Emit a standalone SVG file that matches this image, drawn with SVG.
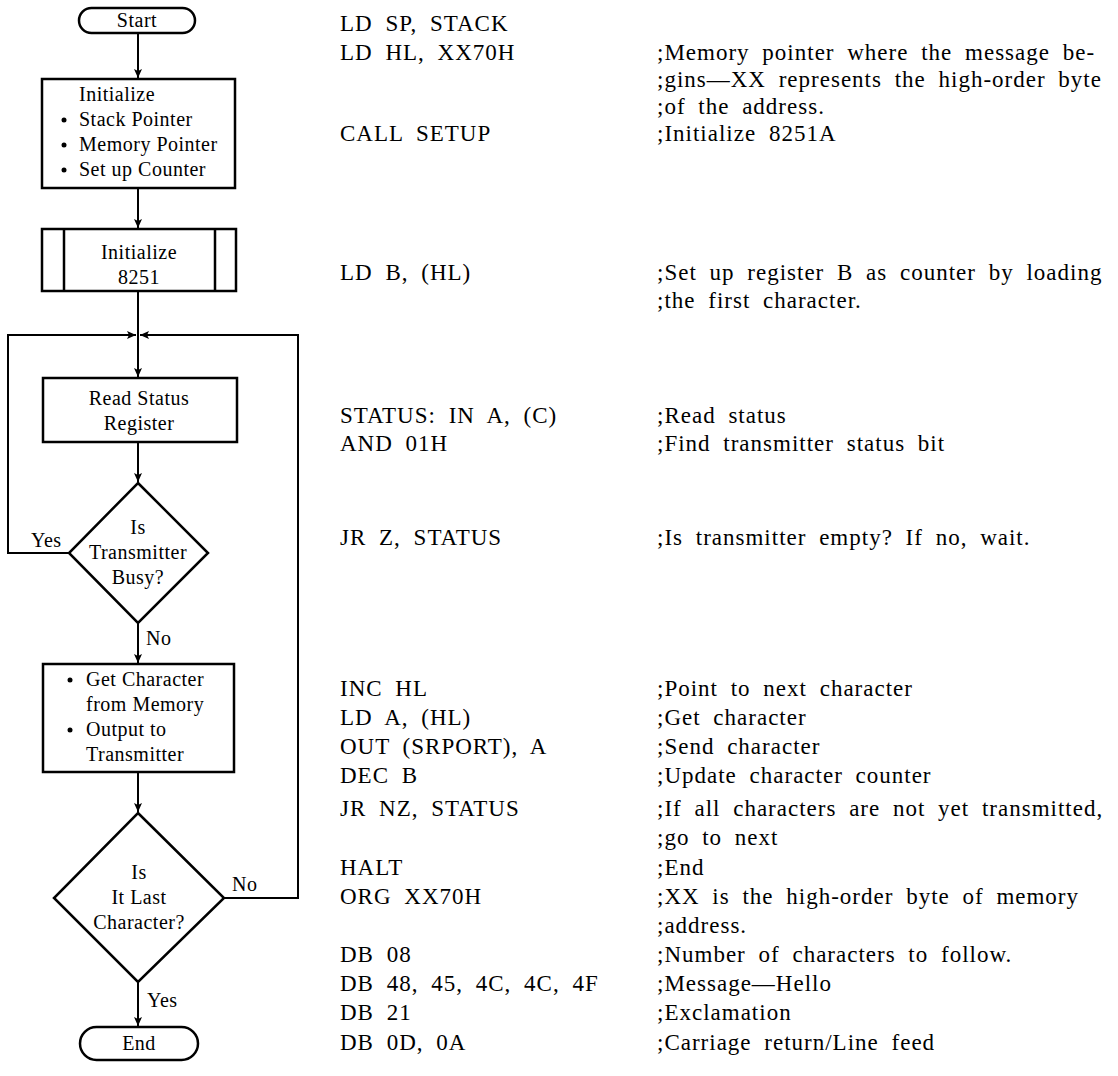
<svg xmlns="http://www.w3.org/2000/svg" width="1118" height="1076" viewBox="0 0 1118 1076">
<style>
  .shape { fill: #fff; stroke: #000; stroke-width: 2.5; }
  .line { fill: none; stroke: #000; stroke-width: 2; }
  .fc { font-family: "Liberation Serif", "Times New Roman", serif; font-size: 20px; letter-spacing: 0.5px; fill: #000; }
  .mid { text-anchor: middle; }
  .code { font-family: "Liberation Serif", "Times New Roman", serif; font-size: 23px; letter-spacing: 1px; word-spacing: 6px; fill: #000; }
</style>
<defs>
  <marker id="arr" markerWidth="10" markerHeight="12" refX="9" refY="5" orient="auto" markerUnits="userSpaceOnUse">
    <path d="M0,1 L9,5 L0,9 L2,5 Z" fill="#000"/>
  </marker>
</defs>
<rect width="1118" height="1076" fill="#fff"/>

<g id="connectors">
  <line class="line" x1="138" y1="33" x2="138" y2="78" marker-end="url(#arr)"/>
  <line class="line" x1="138" y1="188" x2="138" y2="228" marker-end="url(#arr)"/>
  <line class="line" x1="138" y1="291" x2="138" y2="377" marker-end="url(#arr)"/>
  <polyline class="line" points="69,553 8,553 8,335 136,335" marker-end="url(#arr)"/>
  <polyline class="line" points="224,898 298,898 298,335 140,335" marker-end="url(#arr)"/>
  <line class="line" x1="138" y1="442" x2="138" y2="482" marker-end="url(#arr)"/>
  <line class="line" x1="138" y1="623" x2="138" y2="663" marker-end="url(#arr)"/>
  <line class="line" x1="138" y1="772" x2="138" y2="812" marker-end="url(#arr)"/>
  <line class="line" x1="138" y1="982" x2="138" y2="1026" marker-end="url(#arr)"/>
  <text class="fc" x="31" y="547">Yes</text>
  <text class="fc" x="146" y="645">No</text>
  <text class="fc" x="232" y="891">No</text>
  <text class="fc" x="147" y="1007">Yes</text>
</g>

<g id="start">
  <rect class="shape" x="79" y="8" width="116" height="25" rx="12.5"/>
  <text class="fc mid" x="137" y="27">Start</text>
</g>
<g id="init">
  <rect class="shape" x="42" y="79" width="193" height="109"/>
  <text class="fc" x="79" y="101">Initialize</text>
  <circle cx="64" cy="120" r="2.5"/>
  <text class="fc" x="79" y="126">Stack Pointer</text>
  <circle cx="64" cy="145" r="2.5"/>
  <text class="fc" x="79" y="151">Memory Pointer</text>
  <circle cx="64" cy="170" r="2.5"/>
  <text class="fc" x="79" y="176">Set up Counter</text>
</g>
<g id="init8251">
  <rect class="shape" x="42" y="229" width="194" height="62"/>
  <line class="shape" x1="64" y1="229" x2="64" y2="291"/>
  <line class="shape" x1="215" y1="229" x2="215" y2="291"/>
  <text class="fc mid" x="139" y="259">Initialize</text>
  <text class="fc mid" x="139" y="284">8251</text>
</g>
<g id="readstatus">
  <rect class="shape" x="43" y="378" width="194" height="64"/>
  <text class="fc mid" x="139" y="405">Read Status</text>
  <text class="fc mid" x="139" y="430">Register</text>
</g>
<g id="busy">
  <polygon class="shape" points="138,483 208,553 138,623 69,553"/>
  <text class="fc mid" x="138" y="534">Is</text>
  <text class="fc mid" x="138" y="559">Transmitter</text>
  <text class="fc mid" x="138" y="584">Busy?</text>
</g>
<g id="getchar">
  <rect class="shape" x="43" y="664" width="191" height="108"/>
  <circle cx="70" cy="680" r="2.5"/>
  <text class="fc" x="86" y="686">Get Character</text>
  <text class="fc" x="86" y="711">from Memory</text>
  <circle cx="70" cy="730" r="2.5"/>
  <text class="fc" x="86" y="736">Output to</text>
  <text class="fc" x="86" y="761">Transmitter</text>
</g>
<g id="lastchar">
  <polygon class="shape" points="138,813 224,898 138,982 54,898"/>
  <text class="fc mid" x="139" y="879">Is</text>
  <text class="fc mid" x="139" y="904">It Last</text>
  <text class="fc mid" x="139" y="929">Character?</text>
</g>
<g id="end">
  <rect class="shape" x="80" y="1027" width="118" height="33" rx="16.5"/>
  <text class="fc mid" x="139" y="1050">End</text>
</g>

<g id="listing">
  <text class="code" x="340" y="31">LD SP, STACK</text>
  <text class="code" x="340" y="60">LD HL, XX70H</text>
  <text class="code" x="657" y="60">;Memory pointer where the message be-</text>
  <text class="code" x="657" y="87">;gins—XX represents the high-order byte</text>
  <text class="code" x="657" y="114">;of the address.</text>
  <text class="code" x="340" y="141">CALL SETUP</text>
  <text class="code" x="657" y="141">;Initialize 8251A</text>
  <text class="code" x="340" y="280">LD B, (HL)</text>
  <text class="code" x="657" y="280">;Set up register B as counter by loading</text>
  <text class="code" x="657" y="308">;the first character.</text>
  <text class="code" x="340" y="423">STATUS: IN A, (C)</text>
  <text class="code" x="657" y="423">;Read status</text>
  <text class="code" x="340" y="451">AND 01H</text>
  <text class="code" x="657" y="451">;Find transmitter status bit</text>
  <text class="code" x="340" y="545">JR Z, STATUS</text>
  <text class="code" x="657" y="545">;Is transmitter empty? If no, wait.</text>
  <text class="code" x="340" y="696">INC HL</text>
  <text class="code" x="657" y="696">;Point to next character</text>
  <text class="code" x="340" y="725">LD A, (HL)</text>
  <text class="code" x="657" y="725">;Get character</text>
  <text class="code" x="340" y="754">OUT (SRPORT), A</text>
  <text class="code" x="657" y="754">;Send character</text>
  <text class="code" x="340" y="783">DEC B</text>
  <text class="code" x="657" y="783">;Update character counter</text>
  <text class="code" x="340" y="816">JR NZ, STATUS</text>
  <text class="code" x="657" y="816">;If all characters are not yet transmitted,</text>
  <text class="code" x="657" y="845">;go to next</text>
  <text class="code" x="340" y="875">HALT</text>
  <text class="code" x="657" y="875">;End</text>
  <text class="code" x="340" y="904">ORG XX70H</text>
  <text class="code" x="657" y="904">;XX is the high-order byte of memory</text>
  <text class="code" x="657" y="933">;address.</text>
  <text class="code" x="340" y="962">DB 08</text>
  <text class="code" x="657" y="962">;Number of characters to follow.</text>
  <text class="code" x="340" y="991">DB 48, 45, 4C, 4C, 4F</text>
  <text class="code" x="657" y="991">;Message—Hello</text>
  <text class="code" x="340" y="1020">DB 21</text>
  <text class="code" x="657" y="1020">;Exclamation</text>
  <text class="code" x="340" y="1050">DB 0D, 0A</text>
  <text class="code" x="657" y="1050">;Carriage return/Line feed</text>
</g>
</svg>
